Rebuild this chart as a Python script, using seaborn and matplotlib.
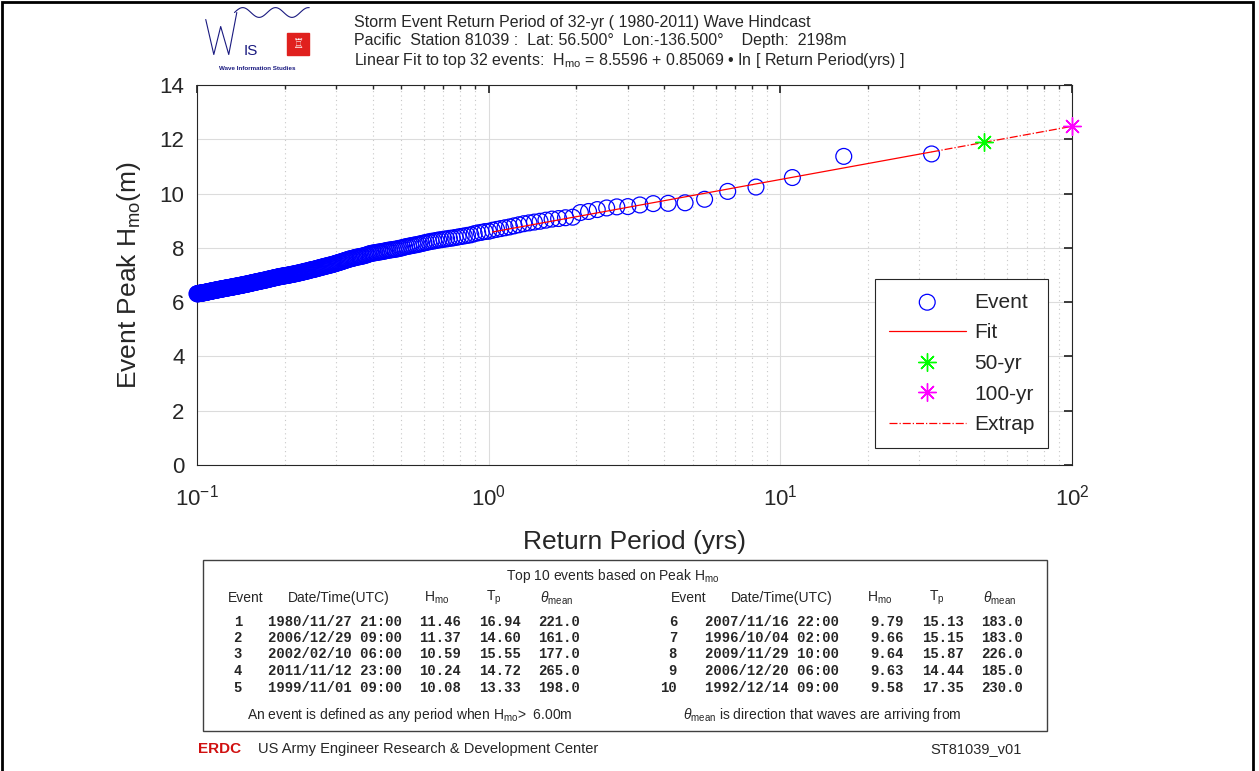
import numpy as np
import pandas as pd
import matplotlib
matplotlib.use("Agg")
import matplotlib.pyplot as plt
import seaborn as sns
from matplotlib.patches import Rectangle
from matplotlib.ticker import LogLocator, NullFormatter

# ---- data ----
n_years = 32
# event peak Hmo (m), sorted from the largest event down
hmo = [
    11.46, 11.37, 10.59, 10.24, 10.08, 9.79, 9.66, 9.64, 9.63, 9.58,
    9.52, 9.51, 9.47, 9.41, 9.34, 9.30, 9.13, 9.11, 9.08, 9.06,
    9.02, 8.98, 8.95, 8.92, 8.89, 8.85, 8.81, 8.77, 8.74, 8.71,
    8.68, 8.65, 8.61, 8.60, 8.57, 8.55, 8.52, 8.48, 8.46, 8.44,
    8.42, 8.40, 8.38, 8.36, 8.35, 8.33, 8.32, 8.30, 8.29, 8.27,
    8.25, 8.24, 8.22, 8.20, 8.18, 8.16, 8.14, 8.12, 8.11, 8.09,
    8.08, 8.06, 8.05, 8.03, 8.01, 7.99, 7.98, 7.96, 7.95, 7.94,
    7.93, 7.92, 7.91, 7.90, 7.88, 7.87, 7.86, 7.85, 7.84, 7.83,
    7.82, 7.81, 7.80, 7.79, 7.77, 7.75, 7.73, 7.72, 7.70, 7.69,
    7.68, 7.67, 7.66, 7.65, 7.64, 7.62, 7.61, 7.60, 7.59, 7.57,
    7.56, 7.54, 7.53, 7.51, 7.50, 7.48, 7.47, 7.46, 7.44, 7.43,
    7.42, 7.40, 7.39, 7.38, 7.37, 7.36, 7.35, 7.34, 7.33, 7.32,
    7.31, 7.30, 7.29, 7.28, 7.27, 7.26, 7.25, 7.24, 7.23, 7.22,
    7.21, 7.20, 7.20, 7.19, 7.18, 7.17, 7.16, 7.15, 7.14, 7.14,
    7.13, 7.12, 7.11, 7.10, 7.10, 7.09, 7.08, 7.07, 7.07, 7.06,
    7.05, 7.05, 7.04, 7.03, 7.03, 7.02, 7.02, 7.01, 7.00, 7.00,
    6.99, 6.99, 6.98, 6.98, 6.97, 6.97, 6.96, 6.96, 6.95, 6.95,
    6.94, 6.94, 6.93, 6.93, 6.92, 6.91, 6.91, 6.90, 6.90, 6.89,
    6.88, 6.88, 6.87, 6.87, 6.86, 6.85, 6.85, 6.84, 6.84, 6.83,
    6.82, 6.82, 6.81, 6.81, 6.80, 6.80, 6.79, 6.79, 6.78, 6.78,
    6.77, 6.77, 6.76, 6.76, 6.75, 6.75, 6.74, 6.74, 6.73, 6.73,
    6.72, 6.72, 6.71, 6.71, 6.70, 6.70, 6.69, 6.69, 6.68, 6.68,
    6.67, 6.67, 6.66, 6.66, 6.66, 6.65, 6.65, 6.64, 6.64, 6.63,
    6.63, 6.63, 6.62, 6.62, 6.61, 6.61, 6.61, 6.60, 6.60, 6.59,
    6.59, 6.59, 6.58, 6.58, 6.58, 6.57, 6.57, 6.56, 6.56, 6.56,
    6.55, 6.55, 6.55, 6.54, 6.54, 6.54, 6.53, 6.53, 6.53, 6.52,
    6.52, 6.52, 6.51, 6.51, 6.51, 6.50, 6.50, 6.50, 6.49, 6.49,
    6.49, 6.48, 6.48, 6.48, 6.47, 6.47, 6.47, 6.46, 6.46, 6.46,
    6.45, 6.45, 6.45, 6.44, 6.44, 6.44, 6.43, 6.43, 6.43, 6.42,
    6.42, 6.42, 6.41, 6.41, 6.41, 6.40, 6.40, 6.40, 6.39, 6.39,
    6.39, 6.38, 6.38, 6.38, 6.37, 6.37, 6.37, 6.36, 6.36, 6.36,
    6.35, 6.35, 6.35, 6.35, 6.34, 6.34, 6.34, 6.34, 6.33, 6.33,
    6.33, 6.33, 6.32, 6.32, 6.32, 6.32, 6.31, 6.31, 6.31, 6.31,
]
fit_a = 8.5596
fit_b = 0.85069
n_fit = 32
extrap_periods = [50, 100]

top_rank = [1, 2, 3, 4, 5, 6, 7, 8, 9, 10]
top_date = ["1980/11/27 21:00", "2006/12/29 09:00", "2002/02/10 06:00",
            "2011/11/12 23:00", "1999/11/01 09:00", "2007/11/16 22:00",
            "1996/10/04 02:00", "2009/11/29 10:00", "2006/12/20 06:00",
            "1992/12/14 09:00"]
top_hmo = ["11.46", "11.37", "10.59", "10.24", "10.08", "9.79", "9.66", "9.64", "9.63", "9.58"]
top_tp = ["16.94", "14.60", "15.55", "14.72", "13.33", "15.13", "15.15", "15.87", "14.44", "17.35"]
top_dir = ["221.0", "161.0", "177.0", "265.0", "198.0", "183.0", "183.0", "226.0", "185.0", "230.0"]

# plotting positions (N+1)/rank
events = pd.DataFrame({"hmo": hmo})
events["rank"] = np.arange(1, len(events) + 1)
events["period"] = (n_years + 1) / events["rank"]

fit_x = [events["period"].iloc[n_fit - 1], events["period"].iloc[0]]
fit = pd.DataFrame({"period": fit_x})
fit["hmo"] = fit_a + fit_b * np.log(fit["period"])
ext = pd.DataFrame({"period": [fit_x[1]] + extrap_periods})
ext["hmo"] = fit_a + fit_b * np.log(ext["period"])

sns.set_theme(style="white")
plt.rcParams["font.family"] = ["Liberation Sans", "DejaVu Sans"]
plt.rcParams["mathtext.fontset"] = "custom"
plt.rcParams["mathtext.rm"] = "Liberation Sans"
plt.rcParams["mathtext.it"] = "Liberation Sans:italic"
plt.rcParams["mathtext.bf"] = "Liberation Sans:bold"

W, H = 1259, 771
fx = lambda x: x / W
fy = lambda y: 1 - y / H

fig = plt.figure(figsize=(12.59, 7.71), dpi=100)
ax = fig.add_axes([fx(197), fy(465), 875 / W, 380 / H])

sns.scatterplot(data=events, x="period", y="hmo", ax=ax, marker="o", s=130,
                facecolors="none", edgecolor="#0000ff", linewidth=0.9,
                clip_on=False, label="Event", zorder=3)
sns.lineplot(data=fit, x="period", y="hmo", ax=ax, color="red", lw=0.9, label="Fit", zorder=4)
ax.plot(ext["period"].iloc[1], ext["hmo"].iloc[1], marker=(8, 2, 0), ms=13, mew=1.0,
        color="#00ff00", ls="none", label="50-yr", zorder=5, clip_on=False)
ax.plot(ext["period"].iloc[2], ext["hmo"].iloc[2], marker=(8, 2, 0), ms=13, mew=1.0,
        color="#ff00ff", ls="none", label="100-yr", zorder=5, clip_on=False)
sns.lineplot(data=ext, x="period", y="hmo", ax=ax, color="red", lw=0.9, ls="-.",
             label="Extrap", zorder=4)

ax.set_xscale("log")
ax.set_xlim(0.1, 100)
ax.set_ylim(0, 14)
ax.set_yticks(range(0, 15, 2))
ax.xaxis.set_minor_locator(LogLocator(base=10, subs=np.arange(2, 10)))
ax.xaxis.set_minor_formatter(NullFormatter())
ax.grid(True, which="major", color="#dcdcdc", lw=0.8, ls="-")
ax.grid(True, which="minor", axis="x", color="#c8c8c8", lw=0.8, ls=(0, (1, 3)))
ax.set_axisbelow(True)
for s in ax.spines.values():
    s.set_color("#262626")
    s.set_linewidth(0.8)
ax.tick_params(which="both", direction="in", top=True, right=True, color="#262626",
               labelsize=16, labelcolor="#262626")
ax.tick_params(axis="x", which="major", pad=14)
ax.tick_params(axis="y", which="major", pad=9)
ax.tick_params(which="major", length=6)
ax.tick_params(which="minor", length=3)
ax.set_xlabel("Return Period (yrs)", fontsize=19, color="#262626", labelpad=14)
ax.set_ylabel(r"Event Peak H$_{\rm mo}$(m)", fontsize=19, color="#262626", labelpad=12)

leg = ax.legend(loc="lower right", bbox_to_anchor=(0.9726, 0.045), borderaxespad=0,
                fontsize=15, frameon=True, fancybox=False, framealpha=1,
                edgecolor="#262626", handlelength=3.7, handletextpad=0.4,
                labelspacing=0.56, borderpad=0.65)
leg.get_frame().set_linewidth(0.8)

# title block
tx = fx(354)
fig.text(tx, fy(22), "Storm Event Return Period of 32-yr ( 1980-2011) Wave Hindcast",
         fontsize=11.5, va="center", ha="left")
fig.text(tx, fy(41), "Pacific  Station 81039 :  Lat: 56.500\u00b0  Lon:-136.500\u00b0    Depth:  2198m",
         fontsize=11.5, va="center", ha="left")
fig.text(tx, fy(60), "Linear Fit to top 32 events:  H$_{\\rm mo}$ = 8.5596 + 0.85069 \u2022 In [ Return Period(yrs) ]",
         fontsize=11.5, va="center", ha="left")

# WIS logo (approximate)
lg = fig.add_axes([fx(200), fy(72), 115 / W, 70 / H])
lg.set_xlim(0, 1)
lg.set_ylim(0, 1)
lg.axis("off")
wx = np.linspace(0.3, 0.95, 60)
lg.plot(wx, 0.85 + 0.07 * np.sin((wx - 0.3) * 22), color="#1a1a80", lw=0.8)
lg.plot([0.05, 0.12, 0.18, 0.25, 0.32], [0.75, 0.25, 0.65, 0.25, 0.85], color="#1a1a80", lw=0.8)
lg.text(0.38, 0.3, "IS", fontsize=11, color="#1a1a80", va="center")
lg.add_patch(Rectangle((0.76, 0.24), 0.19, 0.32, color="#e0201e"))
lg.text(0.855, 0.40, "\u2656", fontsize=9, color="white", ha="center", va="center",
        family=["DejaVu Sans"])
lg.text(0.5, 0.05, "Wave Information Studies", fontsize=4.5, color="#1a1a80", ha="center",
        va="center", fontweight="bold")

# top-10 table
fig.add_artist(Rectangle((fx(203), fy(731)), (1047 - 203) / W, (731 - 560) / H,
                         transform=fig.transFigure, fill=False, ec="#404040", lw=1.0))
fig.text(fx(613), fy(576), r"Top 10 events based on Peak H$_{\rm mo}$", fontsize=10,
         ha="center", va="center")
hdr_y = fy(598)
for off in [0, 443]:
    fig.text(fx(246 + off), hdr_y, "Event", fontsize=10, ha="center", va="center")
    fig.text(fx(339 + off), hdr_y, "Date/Time(UTC)", fontsize=10, ha="center", va="center")
    fig.text(fx(437 + off), hdr_y, r"H$_{\rm mo}$", fontsize=10, ha="center", va="center")
    fig.text(fx(494 + off), hdr_y, r"T$_{\rm p}$", fontsize=10, ha="center", va="center")
    fig.text(fx(557 + off), hdr_y, r"$\theta_{\rm mean}$", fontsize=10, ha="center", va="center")

row_y = [622, 638, 654, 671, 688]
mono = dict(family=["Liberation Mono", "DejaVu Sans Mono"], fontweight="bold", fontsize=10,
            va="center")
for i in range(10):
    y = fy(row_y[i % 5])
    left = i < 5
    fig.text(fx(242 if left else 677), y, str(top_rank[i]), ha="right", **mono)
    fig.text(fx(268 if left else 705), y, top_date[i], ha="left", **mono)
    off = 0 if left else 443
    fig.text(fx(461 + off), y, top_hmo[i], ha="right", **mono)
    fig.text(fx(521 + off), y, top_tp[i], ha="right", **mono)
    fig.text(fx(580 + off), y, top_dir[i], ha="right", **mono)

fig.text(fx(410), fy(715), r"An event is defined as any period when H$_{\rm mo}$>  6.00m",
         fontsize=10, ha="center", va="center")
fig.text(fx(822), fy(715), r"$\theta_{\rm mean}$ is direction that waves are arriving from",
         fontsize=10, ha="center", va="center")

# footer
fig.text(fx(198), fy(749), "ERDC", fontsize=11, color="#d01010", fontweight="bold",
         ha="left", va="center")
fig.text(fx(258), fy(749), "US Army Engineer Research & Development Center", fontsize=10.5,
         ha="left", va="center")
fig.text(fx(930), fy(749), "ST81039_v01", fontsize=10.5, ha="left", va="center")

# outer frame
fig.add_artist(Rectangle((0.0015, -0.01), 0.994, 1.008, transform=fig.transFigure,
                         fill=False, ec="black", lw=2))

fig.savefig("out.png", dpi=100)
